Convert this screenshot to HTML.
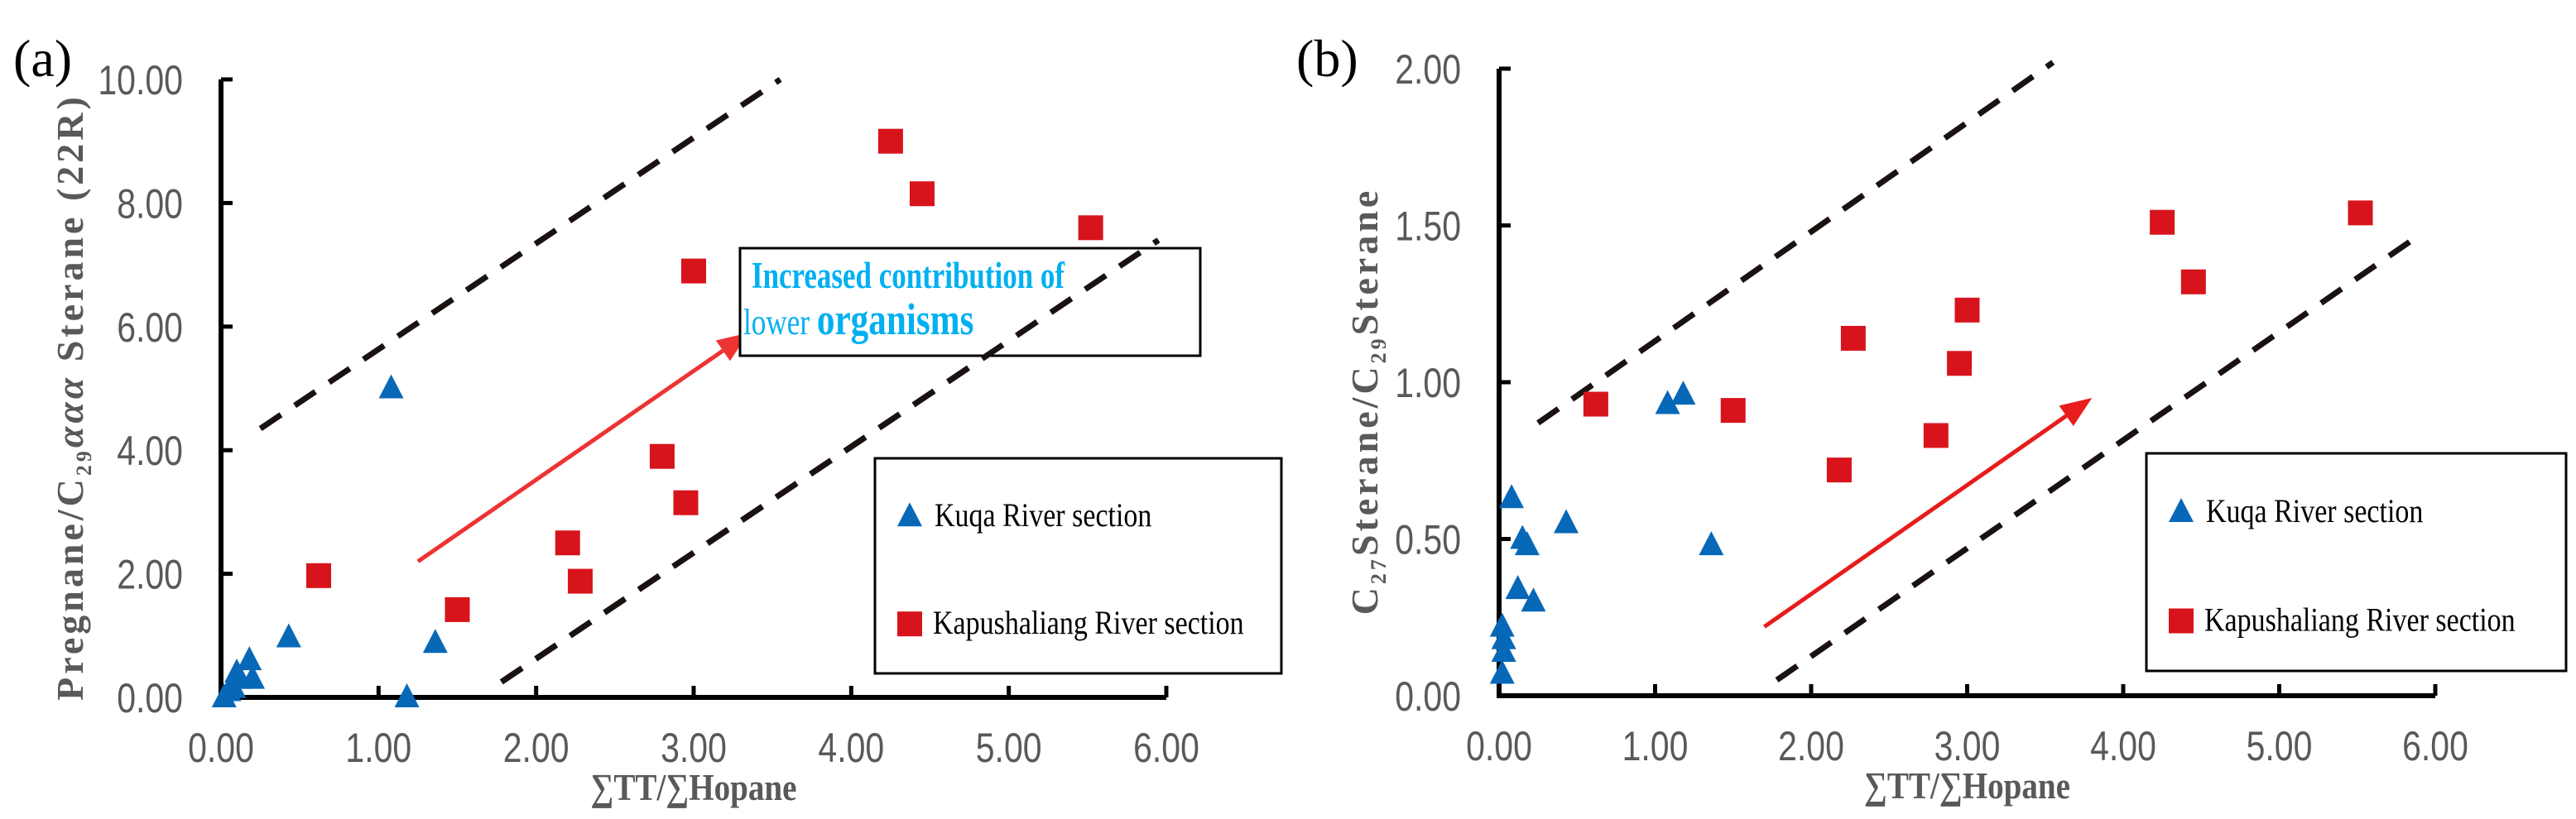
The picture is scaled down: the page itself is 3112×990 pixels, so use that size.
<!DOCTYPE html>
<html><head><meta charset="utf-8"><style>
html,body{margin:0;padding:0;background:#fff;}
svg{display:block;}
.tick{font-family:"Liberation Sans",sans-serif;font-size:50px;fill:#595959;}
.ttl{font-family:"Liberation Serif",serif;font-weight:bold;font-size:46px;fill:#595959;}
.leg{font-family:"Liberation Serif",serif;font-size:40px;fill:#000;}
.pl{font-family:"Liberation Serif",serif;font-size:64px;fill:#000;}
</style></head><body>
<svg id="chart" width="3112" height="990" viewBox="0 0 3112 990" xmlns="http://www.w3.org/2000/svg"></svg>
<script>
const xTicks=[0,1,2,3,4,5,6];
const yTicksA=[0,2,4,6,8,10];
const yTicksB=[0,0.5,1,1.5,2];
const aRedX=[4.25,4.45,5.52,3.0,2.8,2.95,2.2,2.28,1.5,0.62];
const aRedY=[9.0,8.15,7.6,6.9,3.9,3.15,2.5,1.88,1.42,1.97];
const aBlueX=[1.08,0.43,1.36,1.18,0.18,0.2,0.12,0.05,0.02,0.08,0.1];
const aBlueY=[5.0,0.97,0.88,0.0,0.6,0.3,0.3,0.1,0.0,0.15,0.4];
const bRedX=[0.62,1.5,2.18,2.27,2.8,2.95,3.0,4.25,4.45,5.52];
const bRedY=[0.93,0.91,0.72,1.14,0.83,1.06,1.23,1.51,1.32,1.54];
const bBlueX=[1.08,1.18,0.08,0.43,0.15,0.18,1.36,0.12,0.22,0.02,0.03,0.03,0.02];
const bBlueY=[0.93,0.96,0.63,0.55,0.5,0.48,0.48,0.34,0.3,0.22,0.18,0.14,0.07];
const aDashUp=[0.25,4.35,3.55,10.0], aDashLo=[1.78,0.25,5.95,7.4], aArrow=[1.25,2.2,3.35,5.9];
const bDashUp=[0.25,0.87,3.55,2.02], bDashLo=[1.78,0.05,5.9,1.47], bArrow=[1.7,0.22,3.8,0.95];

const svg=document.getElementById('chart');
const NS='http://www.w3.org/2000/svg';
function mk(tag,attrs,parent){const e=document.createElementNS(NS,tag);for(const k in attrs)e.setAttribute(k,attrs[k]);(parent||svg).appendChild(e);return e;}
function txt(s,attrs,parent){const e=mk('text',attrs,parent);e.textContent=s;return e;}

function panel(P){
  const g=mk('g',{});
  
  
  const sx=v=>P.x0+(P.x1-P.x0)*v/6;
  const sy=v=>P.y0-(P.y0-P.y1)*v/P.ymax;
  [P.du,P.dl].forEach((d,i)=>{const l=mk('line',{x1:sx(d[0]),y1:sy(d[1]),x2:sx(d[2]),y2:sy(d[3]),stroke:'#1a1111','stroke-width':7,'stroke-dasharray':'30 20'},g);
    
    });
  const A=P.ar;const ax1=sx(A[0]),ay1=sy(A[1]),ax2=sx(A[2]),ay2=sy(A[3]);
  const ang=Math.atan2(ay2-ay1,ax2-ax1);const hl=38,hw=15;
  const bx=ax2-hl*Math.cos(ang),by=ay2-hl*Math.sin(ang);
  const ag=mk('g',{},g);
  
  
  mk('line',{x1:ax1,y1:ay1,x2:bx,y2:by,stroke:P.arc,'stroke-width':5},ag);
  mk('polygon',{points:`${ax2},${ay2} ${bx-hw*Math.sin(ang)},${by+hw*Math.cos(ang)} ${bx+hw*Math.sin(ang)},${by-hw*Math.cos(ang)}`,fill:P.arc},ag);
  const ax=mk('path',{d:`M${P.x0},${P.y1} V${P.y0} H${P.x1}`,fill:'none',stroke:'#000','stroke-width':6},g);
  
  
  xTicks.forEach(v=>{mk('line',{x1:sx(v),y1:P.y0,x2:sx(v),y2:P.y0-14,stroke:'#000','stroke-width':5},g);
    const t=txt(v.toFixed(2),{x:sx(v),y:P.y0+78,'text-anchor':'middle',class:'tick',transform:`translate(${sx(v)},0) scale(0.82,1) translate(${-sx(v)},0)`},g);
    
    });
  P.yt.forEach(v=>{mk('line',{x1:P.x0,y1:sy(v),x2:P.x0+14,y2:sy(v),stroke:'#000','stroke-width':5},g);
    const t=txt(v.toFixed(2),{x:P.x0-46,y:sy(v)+18,'text-anchor':'end',class:'tick',transform:`translate(${P.x0-46},0) scale(0.82,1) translate(${-(P.x0-46)},0)`},g);
    
    });
  const xt=txt('∑TT/∑Hopane',{x:(P.x0+P.x1)/2,y:P.y0+124,'text-anchor':'middle',class:'ttl','font-size':48,transform:`translate(${(P.x0+P.x1)/2},0) scale(0.85,1) translate(${-(P.x0+P.x1)/2},0)`},g);
  
  
  const yt=mk('text',{x:0,y:0,'text-anchor':'middle',class:'ttl',transform:`translate(${P.ytx},${P.yty}) rotate(-90)`,'letter-spacing':'4'},g);
  yt.innerHTML=P.ytitle;
  
  
  const pl=txt(P.label,{x:P.lx,y:P.ly,class:'pl'},g);
  
  
  P.rx.forEach((v,i)=>{const r=mk('rect',{x:sx(v)-15,y:sy(P.ry[i])-15,width:30,height:30,fill:'#d7141c'},g);
    
    });
  P.bx.forEach((v,i)=>{const X=sx(v),Y=sy(P.by[i]);const t=mk('polygon',{points:`${X},${Y-17} ${X-15},${Y+12} ${X+15},${Y+12}`,fill:'#0868b8'},g);
    
    });
  const L=P.leg;const lg=mk('g',{},g);
  
  
  mk('rect',{x:L[0],y:L[1],width:L[2]-L[0],height:L[3]-L[1],fill:'#fff',stroke:'#000','stroke-width':3},lg);
  const e1y=L[1]+(L[3]-L[1])*0.27,e2y=L[1]+(L[3]-L[1])*0.77;
  mk('polygon',{points:`${L[0]+42},${e1y-17} ${L[0]+27},${e1y+12} ${L[0]+57},${e1y+12}`,fill:'#0868b8'},lg);
  const t1=txt('Kuqa River section',{x:L[0]+72,y:e1y+12,class:'leg',transform:`translate(${L[0]+72},0) scale(0.85,1) translate(${-(L[0]+72)},0)`},lg);
  
  
  mk('rect',{x:L[0]+27,y:e2y-15,width:30,height:30,fill:'#d7141c'},lg);
  const t2=txt('Kapushaliang River section',{x:L[0]+70,y:e2y+12,class:'leg',transform:`translate(${L[0]+70},0) scale(0.85,1) translate(${-(L[0]+70)},0)`},lg);
  
  
  return g;
}
panel({name:'panel-a',x0:267,x1:1409,y0:843,y1:96,ymax:10,yt:yTicksA,rx:aRedX,ry:aRedY,bx:aBlueX,by:aBlueY,du:aDashUp,dl:aDashLo,ar:aArrow,arc:'#ee3333',
  ytitle:'Pregnane/C<tspan font-size="26" dy="10">29</tspan><tspan dy="-10" font-style="italic">ααα</tspan> Sterane (22R)',ytx:100,yty:480,label:'(a)',lx:16,ly:92,leg:[1057,554,1548,814]});
panel({name:'panel-b',x0:1811,x1:2942,y0:841,y1:83,ymax:2,yt:yTicksB,rx:bRedX,ry:bRedY,bx:bBlueX,by:bBlueY,du:bDashUp,dl:bDashLo,ar:bArrow,arc:'#e81c1c',
  ytitle:'C<tspan font-size="26" dy="10">27</tspan><tspan dy="-10">Sterane/C</tspan><tspan font-size="26" dy="10">29</tspan><tspan dy="-10">Sterane</tspan>',ytx:1664,yty:485,label:'(b)',lx:1566,ly:92,leg:[2593,548,3100,811]});
const ab=mk('g',{});


mk('rect',{x:894,y:300,width:556,height:130,fill:'#fff',stroke:'#000','stroke-width':3},ab);
txt('Increased contribution of',{x:908,y:348,'font-family':'"Liberation Serif",serif','font-weight':'bold','font-size':46,fill:'#00b0f0',transform:'translate(908,0) scale(0.76,1) translate(-908,0)'},ab);
const t3=txt('',{x:898,y:404,'font-family':'"Liberation Serif",serif','font-size':44,fill:'#00b0f0',transform:'translate(898,0) scale(0.8,1) translate(-898,0)'},ab);
t3.innerHTML='lower  <tspan font-weight="bold" font-size="54">organisms</tspan>';
const sxa=v=>267+(1409-267)*v/6, sya=v=>843-(843-96)*v/10;
const ov=mk('line',{x1:sxa(aDashLo[0]),y1:sya(aDashLo[1]),x2:sxa(aDashLo[2]),y2:sya(aDashLo[3]),stroke:'#1a1111','stroke-width':7,'stroke-dasharray':'30 20'});


</script>
</body></html>
